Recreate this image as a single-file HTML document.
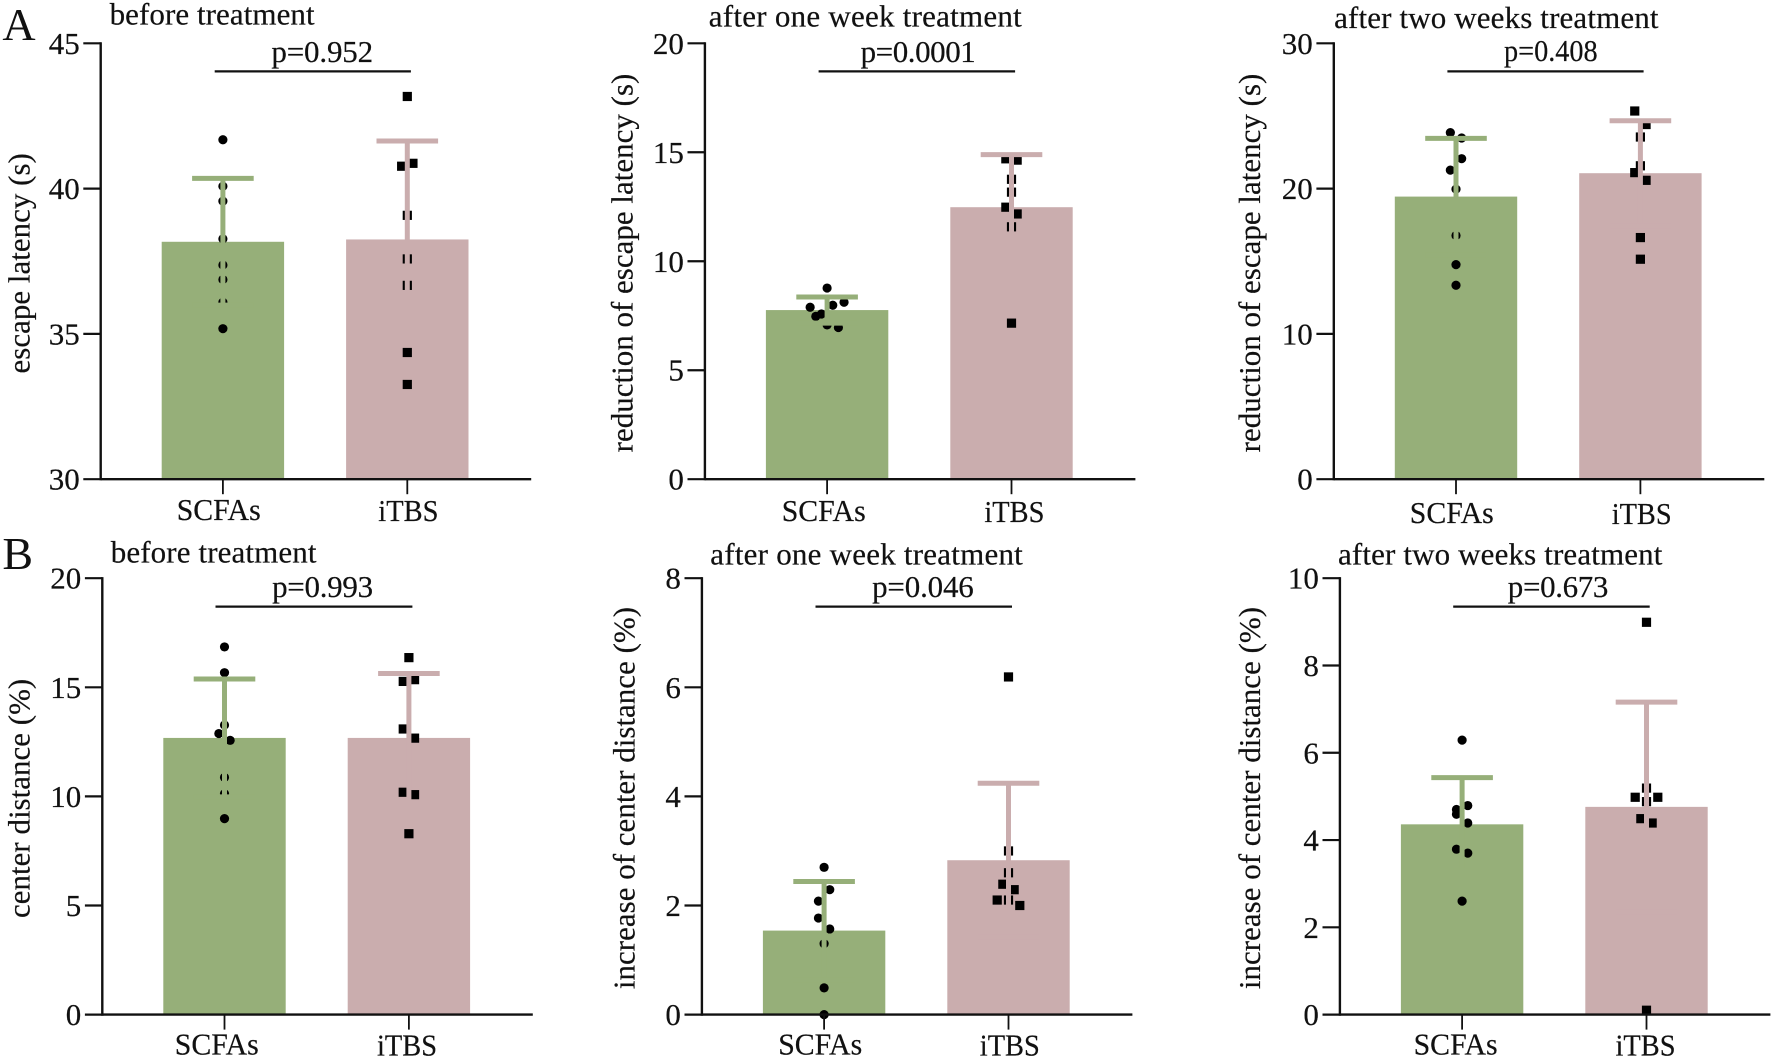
<!DOCTYPE html>
<html lang="en">
<head>
<meta charset="utf-8">
<title>Escape latency and center distance bar charts</title>
<style>
  html, body { margin: 0; padding: 0; background: #fff; }
  svg { display: block; }
  text { font-family: "Liberation Serif", serif; font-size: 31px; fill: #111; stroke: #111; stroke-width: 0.2px; }
  .letter { font-size: 46px; stroke-width: 0; }
</style>
</head>
<body>
<svg id="figure" xmlns="http://www.w3.org/2000/svg" width="1772" height="1058" viewBox="1 0 1772 1058">
  <rect x="0" y="0" width="1774" height="1058" fill="#fff"/>
  <text class="letter" x="3.4" y="40">A</text>
  <text class="letter" x="3.4" y="569">B</text>

  <g id="a1">
    <text x="110.6" y="24.4" textLength="205">before treatment</text>
    <text transform="translate(30.3 263.3) rotate(-90)" text-anchor="middle">escape latency (s)</text>
    <text x="272.4" y="62" textLength="101.7">p=0.952</text>
    <line x1="215.7" x2="411.9" y1="71.4" y2="71.4" stroke="#111" stroke-width="2.2"/>
    <text x="177.7" y="519.8" textLength="84" lengthAdjust="spacingAndGlyphs">SCFAs</text>
    <text x="379.3" y="520.9" textLength="60.2" lengthAdjust="spacingAndGlyphs">iTBS</text>
  </g>
  <g id="a2">
    <text x="709.8" y="26.4" textLength="313">after one week treatment</text>
    <text transform="translate(633.5 263) rotate(-90)" text-anchor="middle">reduction of escape latency (s)</text>
    <text x="861.6" y="62" textLength="115.2">p=0.0001</text>
    <line x1="819.6" x2="1016.1" y1="71.4" y2="71.4" stroke="#111" stroke-width="2.2"/>
    <text x="782.7" y="521.2" textLength="84" lengthAdjust="spacingAndGlyphs">SCFAs</text>
    <text x="985.4" y="522.2" textLength="60" lengthAdjust="spacingAndGlyphs">iTBS</text>
  </g>
  <g id="a3">
    <text x="1335.1" y="27.8" textLength="324.4">after two weeks treatment</text>
    <text transform="translate(1261 263) rotate(-90)" text-anchor="middle">reduction of escape latency (s)</text>
    <text x="1505" y="61" textLength="93.7" lengthAdjust="spacingAndGlyphs">p=0.408</text>
    <line x1="1448.4" x2="1644.6" y1="71.4" y2="71.4" stroke="#111" stroke-width="2.2"/>
    <text x="1410.8" y="523.2" textLength="84" lengthAdjust="spacingAndGlyphs">SCFAs</text>
    <text x="1612.7" y="524.2" textLength="60" lengthAdjust="spacingAndGlyphs">iTBS</text>
  </g>
  <g id="b1">
    <text x="111.7" y="562.6" textLength="205.8">before treatment</text>
    <text transform="translate(30.3 798.4) rotate(-90)" text-anchor="middle">center distance (%)</text>
    <text x="273.1" y="597.2" textLength="101">p=0.993</text>
    <line x1="216.5" x2="413.4" y1="606.6" y2="606.6" stroke="#111" stroke-width="2.2"/>
    <text x="175.8" y="1054.3" textLength="84" lengthAdjust="spacingAndGlyphs">SCFAs</text>
    <text x="378" y="1055.3" textLength="60" lengthAdjust="spacingAndGlyphs">iTBS</text>
  </g>
  <g id="b2">
    <text x="711.3" y="564.3" textLength="312.5">after one week treatment</text>
    <text transform="translate(635.5 798) rotate(-90)" text-anchor="middle">increase of center distance (%)</text>
    <text x="873.1" y="597.2" textLength="101.7">p=0.046</text>
    <line x1="816.5" x2="1013" y1="606.6" y2="606.6" stroke="#111" stroke-width="2.2"/>
    <text x="779.2" y="1054.3" textLength="84" lengthAdjust="spacingAndGlyphs">SCFAs</text>
    <text x="980.8" y="1055.3" textLength="60" lengthAdjust="spacingAndGlyphs">iTBS</text>
  </g>
  <g id="b3">
    <text x="1339" y="564.6" textLength="324.4">after two weeks treatment</text>
    <text transform="translate(1261 798) rotate(-90)" text-anchor="middle">increase of center distance (%)</text>
    <text x="1508.8" y="597.2" textLength="100.6">p=0.673</text>
    <line x1="1454.2" x2="1650.7" y1="606.6" y2="606.6" stroke="#111" stroke-width="2.2"/>
    <text x="1414.6" y="1054.3" textLength="84" lengthAdjust="spacingAndGlyphs">SCFAs</text>
    <text x="1616.5" y="1055.3" textLength="60" lengthAdjust="spacingAndGlyphs">iTBS</text>
  </g>
</svg>
<script>
const categories = ['SCFAs', 'iTBS'];

const a1Ticks = [30, 35, 40, 45];
const a1Means = [38.17, 38.25];
const a1Sds = [2.18, 3.39];
const a1ScfasPoints = [41.68, 40.08, 39.57, 38.27, 37.37, 36.87, 36.09, 35.18];
const a1ItbsPoints = [43.17, 40.87, 40.77, 39.08, 37.58, 36.67, 34.36, 33.26];
const a1ScfasColumns = [0, 0, 0, 0, 0, 0, 0, 0];
const a1ItbsColumns = [0, 1, -1, 0, 0, 0, 0, 0];

const a2Ticks = [0, 5, 10, 15, 20];
const a2Means = [7.76, 12.48];
const a2Sds = [0.6, 2.41];
const a2ScfasPoints = [8.77, 8.12, 7.98, 7.89, 7.58, 7.47, 7.08, 6.96];
const a2ItbsPoints = [14.7, 14.64, 13.76, 13.17, 12.48, 12.17, 11.58, 7.16];
const a2ScfasColumns = [0, 3, 1, -3, -1, -2, 0, 2];
const a2ItbsColumns = [-1, 1, 0, 0, -1, 1, 0, 0];

const a3Ticks = [0, 10, 20, 30];
const a3Means = [19.45, 21.06];
const a3Sds = [4.01, 3.61];
const a3ScfasPoints = [23.85, 23.48, 22.06, 21.27, 19.96, 16.77, 14.77, 13.35];
const a3ItbsPoints = [25.34, 24.41, 23.55, 21.57, 21.1, 20.57, 16.63, 15.14];
const a3ScfasColumns = [-1, 1, 1, -1, 0, 0, 0, 0];
const a3ItbsColumns = [-1, 1, 0, 0, -1, 1, 0, 0];

const b1Ticks = [0, 5, 10, 15, 20];
const b1Means = [12.68, 12.68];
const b1Sds = [2.7, 2.95];
const b1ScfasPoints = [16.85, 15.67, 13.27, 12.88, 12.57, 10.87, 10.12, 8.98];
const b1ItbsPoints = [16.36, 15.35, 15.27, 13.09, 12.67, 10.19, 10.08, 8.29];
const b1ScfasColumns = [0, 0, 0, -1, 1, 0, 0, 0];
const b1ItbsColumns = [0, 1, -1, -1, 1, -1, 1, 0];

const b2Ticks = [0, 2, 4, 6, 8];
const b2Means = [1.54, 2.83];
const b2Sds = [0.9, 1.41];
const b2ScfasPoints = [2.7, 2.29, 2.08, 1.77, 1.57, 1.3, 0.49, 0];
const b2ItbsPoints = [6.19, 3, 2.6, 2.39, 2.29, 2.1, 2.1, 2];
const b2ScfasColumns = [0, 1, -1, -1, 1, 0, 0, 0];
const b2ItbsColumns = [0, 0, 0, -1, 1, -2, 0, 2];

const b3Ticks = [0, 2, 4, 6, 8, 10];
const b3Means = [4.36, 4.76];
const b3Sds = [1.07, 2.4];
const b3ScfasPoints = [6.29, 4.79, 4.7, 4.59, 4.39, 3.79, 3.7, 2.6];
const b3ItbsPoints = [8.99, 5.19, 4.98, 4.98, 4.88, 4.49, 4.39, 0.1];
const b3ScfasColumns = [0, 1, -1, -1, 1, -1, 1, 0];
const b3ItbsColumns = [0, 0, -2, 2, 0, -1, 1, 0];

const SVGNS = 'http://www.w3.org/2000/svg';
const INK = '#111';
const BAR_COLORS = ['#96af79', '#caadae'];
const CATEGORY_OFFSETS = [122.2, 306.6];
const BAR_WIDTH = 122.4;
const CAP_WIDTH = 61.6;
const COLUMN_STEP = 5.65;
const AXIS_LENGTH = 430.5;

function make(tag, attrs, parent) {
  const node = document.createElementNS(SVGNS, tag);
  for (const key in attrs) node.setAttribute(key, attrs[key]);
  parent.appendChild(node);
  return node;
}

function linearScale(domainMin, domainMax, rangeBottom, rangeTop) {
  return function (value) {
    return rangeBottom - (value - domainMin) / (domainMax - domainMin) * (rangeBottom - rangeTop);
  };
}

function drawPanel(id, frame, ticks, means, sds, pointSets, columnSets) {
  const root = document.getElementById(id);
  const y = linearScale(ticks[0], ticks[ticks.length - 1], frame.bottom, frame.top);
  const x = function (index) { return frame.axisX + CATEGORY_OFFSETS[index]; };
  const series = ['scfas', 'itbs'];

  categories.forEach(function (category, i) {
    const bar = make('rect', { x: x(i) - BAR_WIDTH / 2, y: y(means[i]), width: BAR_WIDTH, height: frame.bottom - y(means[i]), fill: BAR_COLORS[i] }, root);
    
    
  });

  categories.forEach(function (category, i) {
    pointSets[i].forEach(function (value, p) {
      const cx = x(i) + columnSets[i][p] * COLUMN_STEP;
      let mark;
      if (i === 0) {
        mark = make('circle', { cx: cx, cy: y(value), r: 4.6, fill: '#000' }, root);
      } else {
        mark = make('rect', { x: cx - 4.6, y: y(value) - 4.6, width: 9.2, height: 9.2, fill: '#000' }, root);
      }
      
      
    });
  });

  categories.forEach(function (category, i) {
    const hi = y(means[i] + sds[i]);
    const lo = y(means[i] - sds[i]);
    const stem = make('line', { x1: x(i), x2: x(i), y1: hi, y2: lo, stroke: BAR_COLORS[i], 'stroke-width': 5 }, root);
    
    
    const capTop = make('line', { x1: x(i) - CAP_WIDTH / 2, x2: x(i) + CAP_WIDTH / 2, y1: hi, y2: hi, stroke: BAR_COLORS[i], 'stroke-width': 5 }, root);
    
    
    const capLow = make('line', { x1: x(i) - CAP_WIDTH / 2, x2: x(i) + CAP_WIDTH / 2, y1: lo, y2: lo, stroke: BAR_COLORS[i], 'stroke-width': 5 }, root);
    
    
  });

  const yAxis = make('line', { x1: frame.axisX, x2: frame.axisX, y1: frame.top - 1.1, y2: frame.bottom + 1.1, stroke: INK, 'stroke-width': 2.4 }, root);
  
  
  const xAxis = make('line', { x1: frame.axisX, x2: frame.axisX + AXIS_LENGTH, y1: frame.bottom, y2: frame.bottom, stroke: INK, 'stroke-width': 2.4 }, root);
  
  

  ticks.forEach(function (tick) {
    const mark = make('line', { x1: frame.axisX - 17.4, x2: frame.axisX, y1: y(tick), y2: y(tick), stroke: INK, 'stroke-width': 2.2 }, root);
    
    
    const label = make('text', { x: frame.axisX - 21, y: y(tick) + 10.5, 'text-anchor': 'end' }, root);
    label.textContent = String(tick);
    
    
  });

  categories.forEach(function (category, i) {
    const mark = make('line', { x1: x(i), x2: x(i), y1: frame.bottom, y2: frame.bottom + 15, stroke: INK, 'stroke-width': 1.8 }, root);
    
    
  });
}

drawPanel('a1', { axisX: 101.7, top: 43.3, bottom: 479.2 }, a1Ticks, a1Means, a1Sds, [a1ScfasPoints, a1ItbsPoints], [a1ScfasColumns, a1ItbsColumns]);
drawPanel('a2', { axisX: 705.9, top: 43.3, bottom: 479.2 }, a2Ticks, a2Means, a2Sds, [a2ScfasPoints, a2ItbsPoints], [a2ScfasColumns, a2ItbsColumns]);
drawPanel('a3', { axisX: 1334.8, top: 43.3, bottom: 479.2 }, a3Ticks, a3Means, a3Sds, [a3ScfasPoints, a3ItbsPoints], [a3ScfasColumns, a3ItbsColumns]);
drawPanel('b1', { axisX: 103.3, top: 578.2, bottom: 1014.6 }, b1Ticks, b1Means, b1Sds, [b1ScfasPoints, b1ItbsPoints], [b1ScfasColumns, b1ItbsColumns]);
drawPanel('b2', { axisX: 702.9, top: 578.2, bottom: 1014.6 }, b2Ticks, b2Means, b2Sds, [b2ScfasPoints, b2ItbsPoints], [b2ScfasColumns, b2ItbsColumns]);
drawPanel('b3', { axisX: 1340.9, top: 578.2, bottom: 1014.6 }, b3Ticks, b3Means, b3Sds, [b3ScfasPoints, b3ItbsPoints], [b3ScfasColumns, b3ItbsColumns]);
</script>
</body>
</html>
